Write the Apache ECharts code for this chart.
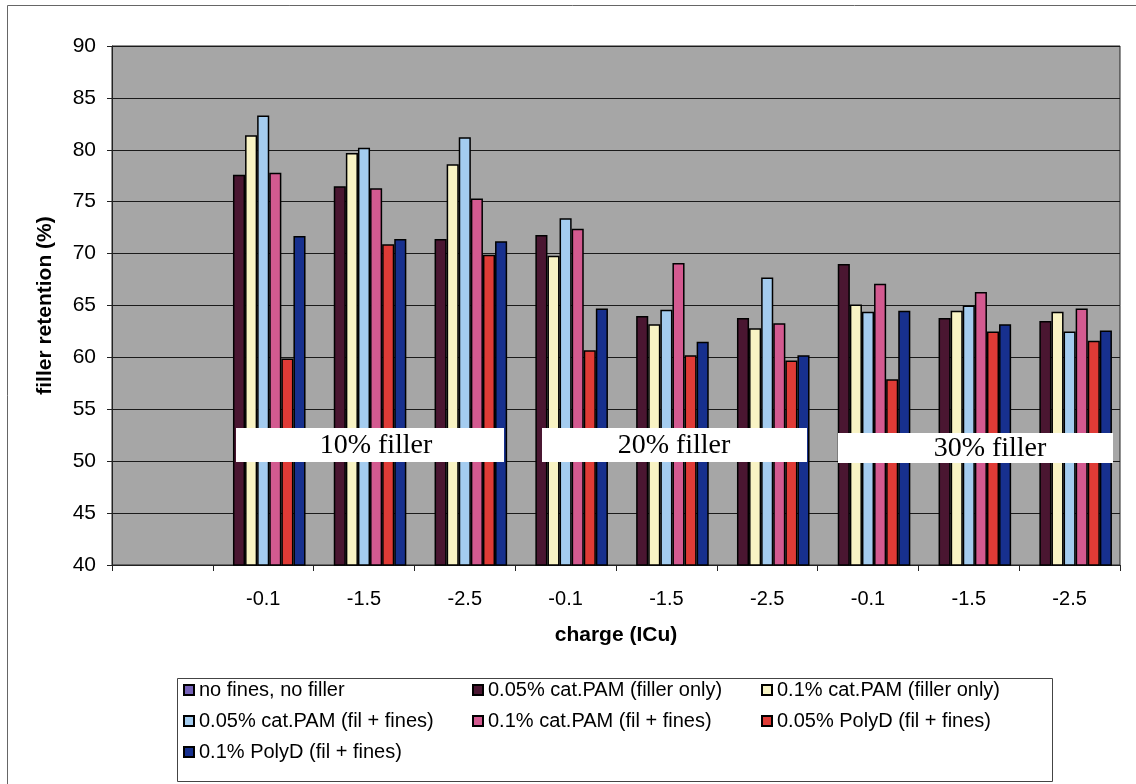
<!DOCTYPE html>
<html>
<head>
<meta charset="utf-8">
<script src="https://cdn.jsdelivr.net/npm/echarts@6/dist/echarts.min.js"></script>
<style>
html,body{margin:0;padding:0;background:#fff;}
#chart{width:1136px;height:784px;}
</style>
</head>
<body>
<div id="chart"></div>
<script>
// categories (charge, ICu) — first slot is the empty "no fines, no filler" position
var categories = ['', '-0.1', '-1.5', '-2.5', '-0.1', '-1.5', '-2.5', '-0.1', '-1.5', '-2.5'];
var seriesNames = [
  'no fines, no filler',
  '0.05% cat.PAM (filler only)',
  '0.1% cat.PAM (filler only)',
  '0.05% cat.PAM (fil + fines)',
  '0.1% cat.PAM (fil + fines)',
  '0.05% PolyD (fil + fines)',
  '0.1% PolyD (fil + fines)'
];
var noFinesNoFiller   = [null, null, null, null, null, null, null, null, null, null];
var pam005FillerOnly  = [null, 77.6, 76.5, 71.4, 71.8, 64.0, 63.8, 69.0, 63.8, 63.5];
var pam01FillerOnly   = [null, 81.4, 79.7, 78.6, 69.8, 63.2, 62.8, 65.1, 64.5, 64.4];
var pam005FilFines    = [null, 83.3, 80.2, 81.2, 73.4, 64.6, 67.7, 64.4, 65.0, 62.5];
var pam01FilFines     = [null, 77.8, 76.3, 75.3, 72.4, 69.1, 63.3, 67.1, 66.3, 64.7];
var polyD005FilFines  = [null, 59.9, 70.9, 69.9, 60.7, 60.2, 59.7, 57.9, 62.5, 61.6];
var polyD01FilFines   = [null, 71.7, 71.4, 71.2, 64.7, 61.5, 60.2, 64.5, 63.2, 62.6];
var yTicks = [40, 45, 50, 55, 60, 65, 70, 75, 80, 85, 90];
var groupLabels = ['10% filler', '20% filler', '30% filler'];

var seriesData = [noFinesNoFiller, pam005FillerOnly, pam01FillerOnly, pam005FilFines,
                  pam01FilFines, polyD005FilFines, polyD01FilFines];
var colors = ['#7662b8', '#4a1631', '#f8f3c4', '#a4ccef', '#d35a90', '#df3b36', '#17308e'];

var chart = echarts.init(document.getElementById('chart'));

var series = seriesNames.map(function (n, i) {
  return {
    name: n,
    type: 'bar',
    data: seriesData[i],
    barGap: '0%',
    barCategoryGap: '16%',
    itemStyle: { color: colors[i], borderColor: '#000', borderWidth: 1.5 }
  };
});

function boxGraphic(x, y, w, h, text, tx) {
  return [
    { type: 'rect', z: 100, shape: { x: x, y: y, width: w, height: h },
      style: { fill: '#fff', stroke: null } },
    { type: 'text', z: 101, x: tx, y: y + h / 2 + 1,
      style: { text: text, fill: '#000', font: '28px "Liberation Serif", serif',
               textAlign: 'center', textVerticalAlign: 'middle' } }
  ];
}

var graphics = [
  { type: 'rect', z: 0, silent: true, shape: { x: 7.5, y: 5.5, width: 1140, height: 790 },
    style: { fill: null, stroke: '#666', lineWidth: 1 } },
  { type: 'rect', z: 0, silent: true, shape: { x: 177.5, y: 678.5, width: 875, height: 103 },
    style: { fill: null, stroke: '#444', lineWidth: 1 } }
].concat(
  boxGraphic(236, 428, 268, 34, groupLabels[0], 376),
  boxGraphic(542, 428, 265, 34, groupLabels[1], 674),
  boxGraphic(838, 433, 275, 30, groupLabels[2], 990)
);

chart.setOption({
  animation: false,
  backgroundColor: '#fff',
  color: colors,
  grid: { left: 112, right: 16, top: 46, bottom: 219, show: true,
          backgroundColor: '#a6a6a6', borderColor: '#222', borderWidth: 1 },
  legend: {
    left: 183, top: 677, width: 880, padding: 0,
    itemWidth: 10, itemHeight: 10, itemGap: 5,
    icon: 'rect',
    textStyle: { fontFamily: '"Liberation Sans", Arial, sans-serif', fontSize: 20,
                 color: '#000', width: 268, overflow: 'truncate', lineHeight: 26 },
    data: seriesNames
  },
  xAxis: {
    type: 'category',
    data: categories,
    name: 'charge (ICu)',
    nameLocation: 'middle',
    nameGap: 60,
    nameTextStyle: { fontFamily: '"Liberation Sans", Arial, sans-serif', fontSize: 21,
                     fontWeight: 'bold', color: '#000' },
    axisLine: { lineStyle: { color: '#222', width: 1 } },
    axisTick: { show: true, alignWithLabel: false, length: 6, lineStyle: { color: '#222' } },
    axisLabel: { fontFamily: '"Liberation Sans", Arial, sans-serif', fontSize: 20,
                 color: '#000', margin: 24, interval: 0 },
    splitLine: { show: false }
  },
  yAxis: {
    type: 'value',
    min: yTicks[0], max: yTicks[yTicks.length - 1], interval: 5,
    name: 'filler retention (%)',
    nameLocation: 'middle',
    nameGap: 56,
    nameRotate: 90,
    nameTextStyle: { fontFamily: '"Liberation Sans", Arial, sans-serif', fontSize: 21,
                     fontWeight: 'bold', color: '#000' },
    axisLine: { show: true, lineStyle: { color: '#222', width: 1 } },
    axisTick: { show: true, length: 5, lineStyle: { color: '#222' } },
    axisLabel: { fontFamily: '"Liberation Sans", Arial, sans-serif', fontSize: 21,
                 color: '#000', margin: 16 },
    splitLine: { show: true, lineStyle: { color: '#1a1a1a', width: 1 } }
  },
  series: series,
  graphic: graphics
});
</script>
</body>
</html>
